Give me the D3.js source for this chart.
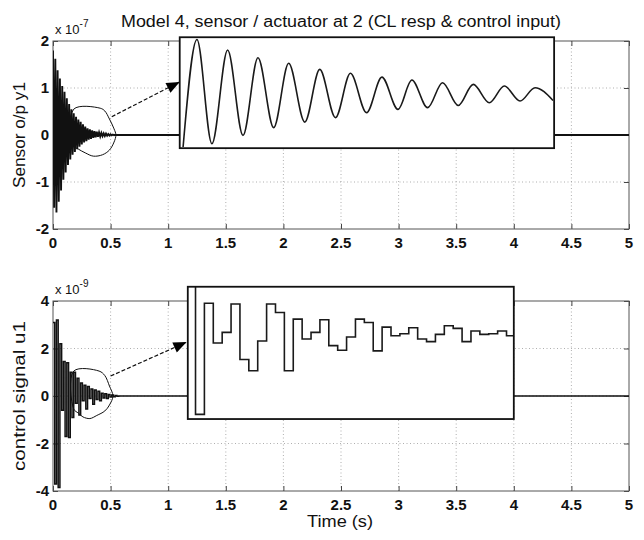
<!DOCTYPE html>
<html><head><meta charset="utf-8">
<script src="https://cdn.jsdelivr.net/npm/d3@7"></script>
<style>body{margin:0;background:#fff}</style>
</head><body>
<svg id="c" width="644" height="540"></svg>
<script>
// ---------- data ----------
const xTicks = [0, 0.5, 1, 1.5, 2, 2.5, 3, 3.5, 4, 4.5, 5];
const xTickLabels = ["0", "0.5", "1", "1.5", "2", "2.5", "3", "3.5", "4", "4.5", "5"];
const yTopTicks = [-2, -1, 0, 1, 2];
const yTopTickLabels = ["-2", "-1", "0", "1", "2"];
const yBotTicks = [-4, -2, 0, 2, 4];
const yBotTickLabels = ["-4", "-2", "0", "2", "4"];

// sensor output y1 (x 1e-7), extrema
const sensorT = [0,0.01,0.02,0.03,0.04,0.05,0.06,0.07,0.08,0.09,0.10,0.11,0.12,0.13,0.14,0.15,0.16,0.17,0.18,0.19,
  0.20,0.21,0.22,0.23,0.24,0.25,0.26,0.27,0.28,0.29,0.30,0.31,0.32,0.33,0.34,0.35,0.36,0.37,0.38,0.39,
  0.40,0.41,0.42,0.43,0.44,0.45,0.46,0.47,0.48,0.49,0.50,0.51,0.52,0.53,0.54,0.55,5];
const sensorV = [1.80,-1.55,1.62,-1.65,1.38,-1.42,1.20,-1.18,1.04,-0.95,0.92,-0.80,0.78,-0.64,0.66,-0.52,0.55,-0.42,0.46,-0.36,
  0.39,-0.30,0.33,-0.25,0.28,-0.20,0.23,-0.16,0.18,-0.13,0.14,-0.10,0.12,-0.08,0.10,-0.06,0.08,-0.05,0.07,-0.04,
  0.055,-0.03,0.045,-0.025,0.035,-0.02,0.03,-0.015,0.02,-0.01,0.015,-0.008,0.01,-0.005,0.005,0,0];

// control signal u1 (x 1e-9), zero-order-hold samples
const ctrlT = [0,0.015,0.03,0.045,0.06,0.075,0.09,0.105,0.12,0.135,0.15,0.165,0.18,0.195,0.21,0.225,0.24,0.255,0.27,0.285,
  0.30,0.315,0.33,0.345,0.36,0.375,0.39,0.405,0.42,0.435,0.45,0.465,0.48,0.495,0.51,0.525,0.54,0.555,0.57,5];
const ctrlV = [3.1,-3.7,3.2,-3.85,2.2,-0.6,1.45,-1.7,1.4,-1.75,1.0,-0.9,1.0,-0.3,0.75,-0.8,0.55,-0.2,0.45,-0.55,
  0.4,-0.1,0.3,-0.35,0.25,-0.15,0.2,-0.2,0.12,-0.08,0.1,-0.1,0.06,-0.04,0.04,-0.03,0.02,-0.01,0,0];

// magnified view of the sensor response (inset units)
const zoomSensorT = [0.9,4.6,8.6,12.8,16.9,20.9,25.1,29.1,33.4,37.4,41.6,45.6,49.9,54.0,58.3,62.0,66.2,70.2,74.4,78.4,82.7,86.7,90.9,94.9,99.7];
const zoomSensorV = [-0.98,0.96,-0.92,0.77,-0.77,0.63,-0.63,0.53,-0.53,0.42,-0.45,0.35,-0.36,0.28,-0.30,0.23,-0.27,0.18,-0.23,0.15,-0.18,0.12,-0.15,0.09,-0.14];

// magnified view of the control signal (inset units, sample index)
const zoomCtrlK = [-1,0,1,2,3,4,5,6,7,8,9,10,11,12,13,14,15,16,17,18,19,20,21,22,23,24,25,26,27,28,29,30,31,32,33,34,35,36];
const zoomCtrlV = [1.3,-0.93,0.75,0.15,0.31,0.74,-0.10,-0.27,0.18,0.74,0.61,-0.27,0.51,0.21,0.31,0.50,0.11,0.04,0.24,0.51,0.46,0.03,
  0.39,0.26,0.29,0.38,0.21,0.17,0.28,0.41,0.37,0.17,0.33,0.28,0.29,0.33,0.26,0.26];

// hand-drawn loops around the magnified regions (data units)
const loopTopT = [0.18,0.41,0.45,0.49,0.53,0.546,0.53,0.49,0.43,0.35,0.28,0.22,0.18];
const loopTopV = [0.55,0.57,0.51,0.34,0.13,0,-0.15,-0.32,-0.42,-0.45,-0.38,-0.30,-0.23];
const loopBotT = [0.18,0.40,0.45,0.49,0.52,0.49,0.45,0.38,0.32,0.26,0.22,0.18];
const loopBotV = [1.05,1.05,0.86,0.42,0,-0.38,-0.63,-0.82,-0.95,-0.88,-0.72,-0.55];

// ---------- layout ----------
const W = 644, H = 540;
const L = 53, R = 629;
const top1 = 41, bot1 = 229, top2 = 301, bot2 = 491;
const FONT = "'Liberation Sans', Arial, Helvetica, sans-serif";

const svg = d3.select("#c");
svg.append("rect").attr("width", W).attr("height", H).attr("fill", "#fff");

const x = d3.scaleLinear().domain([0, 5]).range([L, R]);
const yTop = d3.scaleLinear().domain([-2, 2]).range([bot1, top1]);
const yBot = d3.scaleLinear().domain([-4, 4]).range([bot2, top2]);

const defs = svg.append("defs");
defs.append("marker").attr("id", "ah")
  .attr("viewBox", "0 0 12 10").attr("refX", 12).attr("refY", 5)
  .attr("markerWidth", 14).attr("markerHeight", 11)
  .attr("markerUnits", "userSpaceOnUse").attr("orient", "auto")
  .append("path").attr("d", "M0,0 L12,5 L0,10 Z").attr("fill", "#000");

function panel(y, ticks, tickLabels, tY, bY, expText, ylabel, ylabelLen) {
  const g = svg.append("g");
  // grid
  g.selectAll(".gx").data(xTicks.slice(1, -1)).enter().append("line")
    .attr("x1", d => x(d)).attr("x2", d => x(d)).attr("y1", tY).attr("y2", bY)
    .attr("stroke", "#9a9a9a").attr("stroke-width", 0.8).attr("stroke-dasharray", "1,2.5");
  g.selectAll(".gy").data(ticks.slice(1, -1)).enter().append("line")
    .attr("x1", L).attr("x2", R).attr("y1", d => y(d)).attr("y2", d => y(d))
    .attr("stroke", "#9a9a9a").attr("stroke-width", 0.8).attr("stroke-dasharray", "1,2.5");
  // axes (inward ticks on all four sides)
  g.append("g").attr("transform", `translate(0,${bY})`).call(d3.axisBottom(x).tickValues(xTicks).tickSize(-5).tickFormat(""));
  g.append("g").attr("transform", `translate(0,${tY})`).call(d3.axisTop(x).tickValues(xTicks).tickSize(-5).tickFormat(""));
  g.append("g").attr("transform", `translate(${L},0)`).call(d3.axisLeft(y).tickValues(ticks).tickSize(-5).tickFormat(""));
  g.append("g").attr("transform", `translate(${R},0)`).call(d3.axisRight(y).tickValues(ticks).tickSize(-5).tickFormat(""));
  g.selectAll(".domain").attr("stroke", "none");
  g.selectAll(".tick line").attr("stroke", "#444");
  g.append("rect").attr("x", L).attr("y", tY).attr("width", R - L).attr("height", bY - tY)
    .attr("fill", "none").attr("stroke", "#555").attr("stroke-width", 1);
  // tick labels
  g.selectAll(".xl").data(xTicks).enter().append("text")
    .attr("x", d => x(d)).attr("y", bY + 19).attr("text-anchor", "middle")
    .attr("font-family", FONT).attr("font-size", 15).attr("font-weight", "bold").attr("fill", "#111")
    .text((d, i) => xTickLabels[i]);
  g.selectAll(".yl").data(ticks).enter().append("text")
    .attr("x", L - 4).attr("y", d => y(d) + 5).attr("text-anchor", "end")
    .attr("font-family", FONT).attr("font-size", 15).attr("font-weight", "bold").attr("fill", "#111")
    .text((d, i) => tickLabels[i]);
  // exponent label
  const ex = g.append("text").attr("x", L + 2).attr("y", tY - 7)
    .attr("font-family", FONT).attr("font-size", 13).attr("fill", "#111");
  ex.append("tspan").text("x 10");
  ex.append("tspan").attr("dy", -7).attr("font-size", 10).text(expText);
  // y label
  g.append("text").attr("transform", `translate(25,${(tY + bY) / 2}) rotate(-90)`)
    .attr("text-anchor", "middle").attr("font-family", FONT).attr("font-size", 16).attr("fill", "#111")
    .attr("textLength", ylabelLen).attr("lengthAdjust", "spacingAndGlyphs")
    .text(ylabel);
  return g;
}

panel(yTop, yTopTicks, yTopTickLabels, top1, bot1, "-7", "Sensor o/p y1", 106);
panel(yBot, yBotTicks, yBotTickLabels, top2, bot2, "-9", "control signal u1", 150);

// clip paths for main plots
defs.append("clipPath").attr("id", "clipTop").append("rect")
  .attr("x", L).attr("y", top1).attr("width", R - L).attr("height", bot1 - top1);
defs.append("clipPath").attr("id", "clipBot").append("rect")
  .attr("x", L).attr("y", top2).attr("width", R - L).attr("height", bot2 - top2);

// loops (drawn under the traces)
const loopTop = d3.line().curve(d3.curveCatmullRomClosed.alpha(0.5)).x((d, i) => x(loopTopT[i])).y(d => yTop(d));
svg.append("path").attr("d", loopTop(loopTopV)).attr("fill", "none").attr("stroke", "#111").attr("stroke-width", 1);
const loopBot = d3.line().curve(d3.curveCatmullRomClosed.alpha(0.5)).x((d, i) => x(loopBotT[i])).y(d => yBot(d));
svg.append("path").attr("d", loopBot(loopBotV)).attr("fill", "none").attr("stroke", "#111").attr("stroke-width", 1);

// main traces
const sensorLine = d3.line().x((d, i) => x(sensorT[i])).y(d => yTop(d));
svg.append("path").attr("clip-path", "url(#clipTop)")
  .attr("d", sensorLine(sensorV)).attr("fill", "none").attr("stroke", "#111").attr("stroke-width", 1.9);

const ctrlLine = d3.line().curve(d3.curveStepAfter).x((d, i) => x(ctrlT[i])).y(d => yBot(d));
svg.append("path").attr("clip-path", "url(#clipBot)")
  .attr("d", ctrlLine(ctrlV)).attr("fill", "none").attr("stroke", "#111").attr("stroke-width", 1.5);

// insets (placed in data coordinates of their host axes)
function inset(id, hx, hy, box, dom, t, v, curve, arrowFrom, arrowTo) {
  const x0 = hx(box.t0), x1 = hx(box.t1), y0 = hy(box.v1), y1 = hy(box.v0);
  svg.append("line").attr("x1", hx(arrowFrom[0])).attr("y1", hy(arrowFrom[1]))
    .attr("x2", hx(arrowTo[0])).attr("y2", hy(arrowTo[1]))
    .attr("stroke", "#111").attr("stroke-width", 1.2).attr("stroke-dasharray", "4,2")
    .attr("marker-end", "url(#ah)");
  svg.append("rect").attr("x", x0).attr("y", y0).attr("width", x1 - x0).attr("height", y1 - y0)
    .attr("fill", "#fff");
  defs.append("clipPath").attr("id", id).append("rect")
    .attr("x", x0).attr("y", y0).attr("width", x1 - x0).attr("height", y1 - y0);
  const ix = d3.scaleLinear().domain(dom.x).range([x0, x1]);
  const iy = d3.scaleLinear().domain(dom.y).range([y1, y0]);
  const ln = d3.line().curve(curve).x((d, i) => ix(t[i])).y(d => iy(d));
  svg.append("path").attr("clip-path", `url(#${id})`).attr("d", ln(v))
    .attr("fill", "none").attr("stroke", "#1a1a1a").attr("stroke-width", 1.6);
  svg.append("rect").attr("x", x0).attr("y", y0).attr("width", x1 - x0).attr("height", y1 - y0)
    .attr("fill", "none").attr("stroke", "#111").attr("stroke-width", 1.8);
}

inset("insTop", x, yTop, { t0: 1.10, t1: 4.35, v0: -0.28, v1: 2.08 },
  { x: [0, 100], y: [-1, 1] }, zoomSensorT, zoomSensorV, d3.curveMonotoneX,
  [0.51, 0.39], [1.10, 1.13]);
inset("insBot", x, yBot, { t0: 1.17, t1: 4.0, v0: -0.97, v1: 4.6 },
  { x: [-0.87, 35.82], y: [-1, 1] }, zoomCtrlK, zoomCtrlV, d3.curveStepAfter,
  [0.50, 0.84], [1.16, 2.27]);

// title & x label
svg.append("text").attr("x", 341).attr("y", 27).attr("text-anchor", "middle")
  .attr("font-family", FONT).attr("font-size", 16).attr("fill", "#111")
  .attr("textLength", 440).attr("lengthAdjust", "spacingAndGlyphs")
  .text("Model 4, sensor / actuator at 2 (CL resp & control input)");
svg.append("text").attr("x", 340).attr("y", 527).attr("text-anchor", "middle")
  .attr("font-family", FONT).attr("font-size", 16).attr("fill", "#111")
  .attr("textLength", 66).attr("lengthAdjust", "spacingAndGlyphs")
  .text("Time (s)");
</script>
</body></html>
